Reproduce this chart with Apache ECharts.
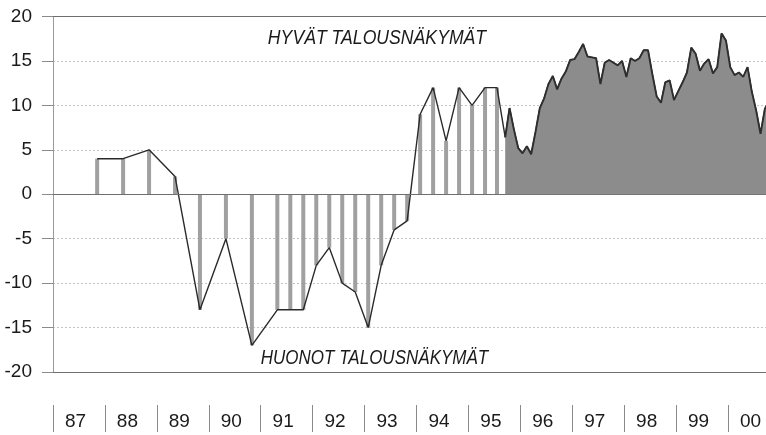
<!DOCTYPE html>
<html>
<head>
<meta charset="utf-8">
<script src="https://cdn.jsdelivr.net/npm/echarts@6/dist/echarts.min.js"></script>
<style>
  html, body { margin: 0; padding: 0; background: #fff; }
  #chart { width: 766px; height: 435px; }
</style>
</head>
<body>
<div id="chart"></div>
<script>
// ---- Data ----
var yearLabels = ['87', '88', '89', '90', '91', '92', '93', '94', '95', '96', '97', '98', '99', '00'];

// Half-yearly survey (decimal years)
var semiDates  = [1987.85, 1988.35, 1988.85, 1989.35, 1989.83, 1990.33, 1990.83, 1991.32];
var semiValues = [4, 4, 5, 2, -13, -5, -17, -13];

// Quarterly survey
var quarterDates  = [1991.57, 1991.82, 1992.07, 1992.32, 1992.57, 1992.82, 1993.07, 1993.32, 1993.57, 1993.82,
                     1994.07, 1994.32, 1994.57, 1994.82, 1995.07, 1995.32, 1995.55];
var quarterValues = [-13, -13, -8, -6, -10, -11, -15, -8, -4, -3, 9, 12, 6, 12, 10, 12, 12];

// Monthly survey, starting September 1995
var monthlyStartYear = 1995;
var monthlyStartMonth = 9;
var monthlyValues = [6.4, 9.7, 7.3, 5.2, 4.6, 5.4, 4.5, 7.0, 9.7, 10.8, 12.4, 13.3,
                     11.8, 13.0, 13.8, 15.1, 15.2, 16.0, 16.9, 15.5, 15.4, 15.3, 12.4, 14.8,
                     15.1, 14.8, 14.5, 15.0, 13.2, 15.3, 15.0, 15.3, 16.2, 16.2, 13.5, 11.0,
                     10.3, 12.6, 12.8, 10.6, 11.6, 12.6, 13.7, 16.5, 15.8, 13.9, 14.7, 15.2,
                     13.6, 14.3, 18.1, 17.3, 14.3, 13.4, 13.7, 13.2, 14.3, 11.5, 9.4, 6.8,
                     9.6, 10.5];

var topText = 'HYVÄT TALOUSNÄKYMÄT';
var bottomText = 'HUONOT TALOUSNÄKYMÄT';

// ---- Build series data ----
var barData = [];
semiDates.forEach(function (d, i) { barData.push([d, semiValues[i]]); });
quarterDates.forEach(function (d, i) { barData.push([d, quarterValues[i]]); });

var monthlyData = monthlyValues.map(function (v, k) {
  var m = monthlyStartMonth - 1 + k;
  var date = monthlyStartYear + Math.floor(m / 12) + ((m % 12) + 0.5) / 12;
  return [date, v];
});

var lineData = barData.concat(monthlyData);

var FONT = "'Liberation Sans', Arial, sans-serif";

var chart = echarts.init(document.getElementById('chart'), null, { renderer: 'canvas' });
chart.setOption({
  animation: false,
  backgroundColor: '#ffffff',
  grid: { left: 53, width: 727, top: 16.5, height: 355.5, containLabel: false, outerBoundsMode: 'none' },
  xAxis: [
    { type: 'value', min: 1987, max: 2001, show: false },
    {
      type: 'category', data: yearLabels, position: 'bottom', offset: 33, boundaryGap: true,
      axisLine: { show: false },
      axisTick: { show: true, length: 27, lineStyle: { color: '#8a8a8a', width: 1 } },
      axisLabel: { color: '#1a1a1a', fontSize: 19, fontFamily: FONT, margin: 7, padding: [0, 7, 0, 0] },
      splitLine: { show: false }
    }
  ],
  yAxis: {
    type: 'value', min: -20, max: 20, interval: 5,
    axisLine: { show: true, lineStyle: { color: '#9a9a9a', width: 1 } },
    axisTick: { show: true, length: 11, lineStyle: { color: '#8a8a8a' } },
    axisLabel: { color: '#1a1a1a', fontSize: 19, fontFamily: FONT, margin: 21 },
    splitLine: { show: true, lineStyle: { color: '#c4c4c4', type: [2, 2], width: 1 } }
  },
  series: [
    {
      type: 'line', name: 'monthlyArea', xAxisIndex: 0, data: monthlyData,
      symbol: 'none', lineStyle: { width: 1.9, color: '#2e2e2e' },
      areaStyle: { color: '#8c8c8c', opacity: 1 },
      z: 5, silent: true
    },
    {
      type: 'bar', name: 'bars', xAxisIndex: 0, data: barData, barWidth: 4,
      itemStyle: { color: '#a0a0a0' }, z: 3, silent: true,
      markLine: {
        silent: true, symbol: ['none', 'none'], label: { show: false },
        lineStyle: { color: '#6e6e6e', type: 'solid', width: 1.2 },
        data: [{ yAxis: 0 }, { yAxis: 20 }, { yAxis: -20 }]
      }
    },
    {
      type: 'line', name: 'line', xAxisIndex: 0, data: lineData,
      symbol: 'none', lineStyle: { color: '#2a2a2a', width: 1.4 }, z: 4, silent: true
    }
  ],
  graphic: [
    { type: 'text', x: 377, y: 38, scaleX: 0.84, style: { text: topText, fontSize: 21, fontStyle: 'italic', fontFamily: FONT, fill: '#1a1a1a', textAlign: 'center', textVerticalAlign: 'middle' } },
    { type: 'text', x: 374.5, y: 358, scaleX: 0.81, style: { text: bottomText, fontSize: 21, fontStyle: 'italic', fontFamily: FONT, fill: '#1a1a1a', textAlign: 'center', textVerticalAlign: 'middle' } }
  ]
});
</script>
</body>
</html>
